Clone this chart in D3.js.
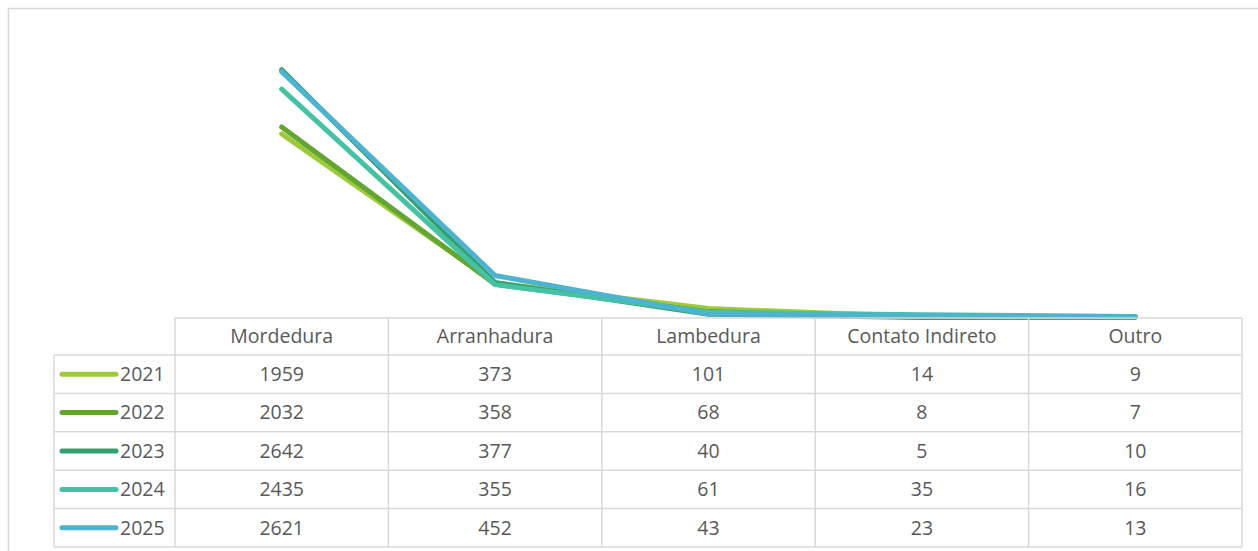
<!DOCTYPE html>
<html>
<head>
<meta charset="utf-8">
<script src="https://cdn.jsdelivr.net/npm/d3@7"></script>
<style>
  html, body { margin: 0; padding: 0; background: #fff; }
  svg { display: block; }
  text { font-family: "Open Sans", "Noto Sans", sans-serif; fill: #595959; }
</style>
</head>
<body>
<svg id="chart" width="1258" height="551"></svg>
<script>
const categories = ["Mordedura", "Arranhadura", "Lambedura", "Contato Indireto", "Outro"];
const seriesNames = ["2021", "2022", "2023", "2024", "2025"];
const v2021 = [1959, 373, 101, 14, 9];
const v2022 = [2032, 358, 68, 8, 7];
const v2023 = [2642, 377, 40, 5, 10];
const v2024 = [2435, 355, 61, 35, 16];
const v2025 = [2621, 452, 43, 23, 13];
const seriesColors = ["#9dca3b", "#62a533", "#35a06c", "#45c2a3", "#4db3cf"];
const yDomain = [0, 3000];

const series = seriesNames.map((n, i) => ({
  name: n, values: [v2021, v2022, v2023, v2024, v2025][i], color: seriesColors[i]
}));

const svg = d3.select("#chart");

// outer frame
svg.append("rect")
  .attr("x", 8.5).attr("y", 8.5).attr("width", 1300).attr("height", 600)
  .attr("fill", "none").attr("stroke", "#d9d9d9").attr("stroke-width", 1.5);

const tableLeft = 175, tableRight = 1242;
const x = d3.scaleBand().domain(categories).range([tableLeft, tableRight]);
const y = d3.scaleLinear().domain(yDomain).range([318, 36]);

// lines
const line = d3.line()
  .x((d, i) => x(categories[i]) + x.bandwidth() / 2)
  .y(d => y(d));

svg.append("g").selectAll("path")
  .data(series).join("path")
  .attr("d", d => line(d.values))
  .attr("fill", "none")
  .attr("stroke", d => d.color)
  .attr("stroke-width", 5)
  .attr("stroke-linecap", "round")
  .attr("stroke-linejoin", "round");

// data table
const headerTop = 318, headerBottom = 355, rowH = 38.4;
const legendLeft = 54;
const grid = svg.append("g").attr("stroke", "#d9d9d9").attr("stroke-width", 1.5).attr("fill", "none");
const tableBottom = headerBottom + rowH * seriesNames.length;

grid.append("line").attr("x1", tableLeft).attr("x2", tableRight).attr("y1", headerTop).attr("y2", headerTop);
for (let r = 0; r <= seriesNames.length; r++) {
  const yy = headerBottom + r * rowH;
  grid.append("line").attr("x1", legendLeft).attr("x2", tableRight).attr("y1", yy).attr("y2", yy);
}
grid.append("line").attr("x1", legendLeft).attr("x2", legendLeft).attr("y1", headerBottom).attr("y2", tableBottom);
categories.forEach(c => {
  grid.append("line").attr("x1", x(c)).attr("x2", x(c)).attr("y1", headerTop).attr("y2", tableBottom);
});
grid.append("line").attr("x1", tableRight).attr("x2", tableRight).attr("y1", headerTop).attr("y2", tableBottom);

const fs = 19.5;
// header labels
svg.append("g").selectAll("text")
  .data(categories).join("text")
  .attr("x", d => x(d) + x.bandwidth() / 2)
  .attr("y", (headerTop + headerBottom) / 2)
  .attr("dy", "0.35em")
  .attr("text-anchor", "middle")
  .attr("font-size", fs)
  .text(d => d);

// rows
series.forEach((s, r) => {
  const cy = headerBottom + r * rowH + rowH / 2;
  svg.append("line")
    .attr("x1", 62).attr("x2", 116).attr("y1", cy).attr("y2", cy)
    .attr("stroke", s.color).attr("stroke-width", 5).attr("stroke-linecap", "round");
  svg.append("text")
    .attr("x", 120).attr("y", cy).attr("dy", "0.35em")
    .attr("text-anchor", "start").attr("font-size", fs)
    .text(s.name);
  s.values.forEach((v, i) => {
    svg.append("text")
      .attr("x", x(categories[i]) + x.bandwidth() / 2)
      .attr("y", cy).attr("dy", "0.35em")
      .attr("text-anchor", "middle").attr("font-size", fs)
      .text(v);
  });
});
</script>
</body>
</html>
